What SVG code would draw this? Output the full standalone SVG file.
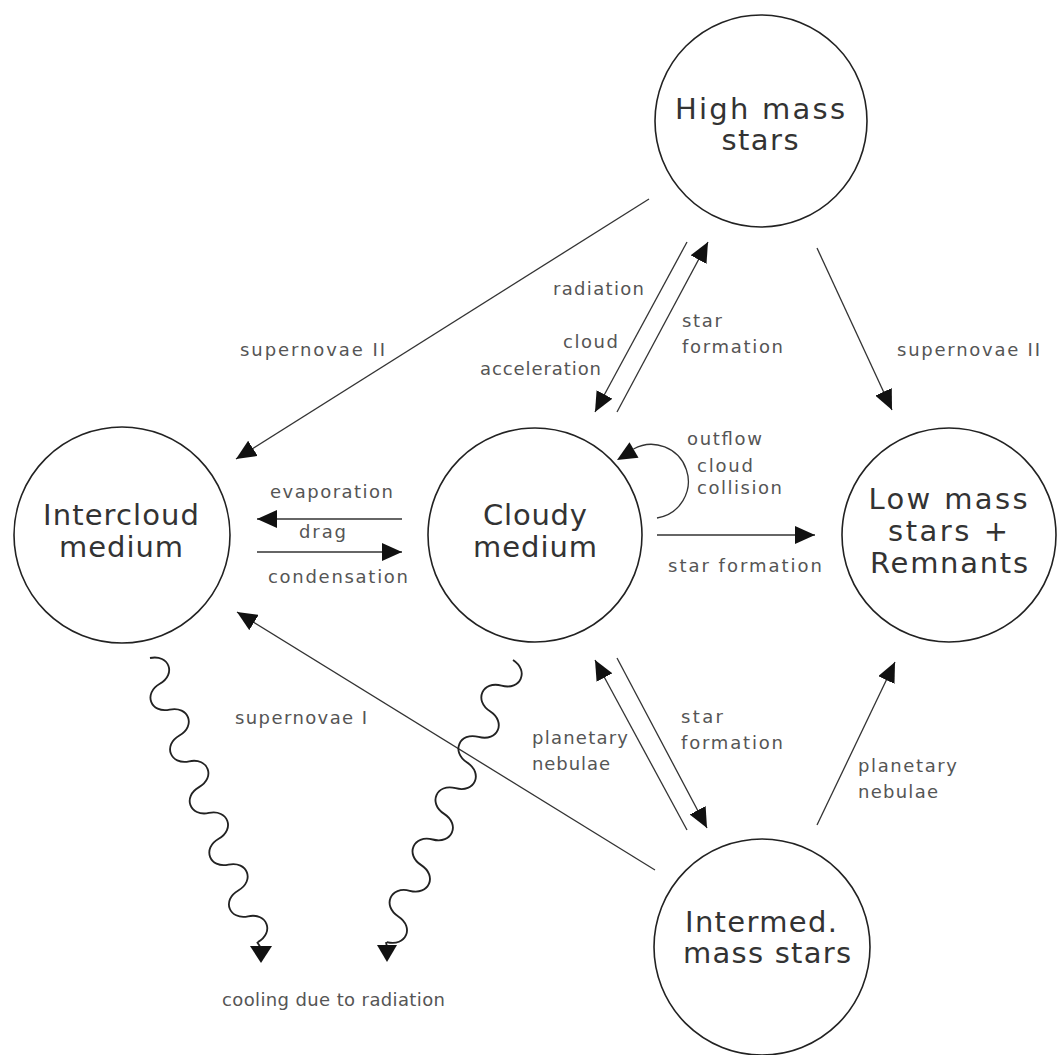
<svg xmlns="http://www.w3.org/2000/svg" width="1058" height="1055" viewBox="0 0 1058 1055">
<defs>
<style>
.node circle{fill:#fff;stroke:#222;stroke-width:1.6}
.nl{font-family:"DejaVu Sans","Liberation Sans",sans-serif;font-size:29px;fill:#333;text-anchor:middle}
.lb{font-family:"DejaVu Sans","Liberation Sans",sans-serif;font-size:18px;fill:#555}
.cn{fill:none;stroke:#333;stroke-width:1.3}
.wv{fill:none;stroke:#222;stroke-width:1.8}
.ah{fill:#111}
</style>
<marker id="arr" viewBox="0 0 20 18" refX="20" refY="9" markerWidth="20" markerHeight="18" markerUnits="userSpaceOnUse" orient="auto"><path d="M0,0 L20,9 L0,18 z" fill="#111"/></marker>
<path id="wave" d="M0,0 C3,-19 24.27,-19 27.27,0 S51.55,19 54.55,0 S78.82,-19 81.82,0 S106.09,19 109.09,0 S133.36,-19 136.36,0 S160.64,19 163.64,0 S187.91,-19 190.91,0 S215.18,19 218.18,0 S242.45,-19 245.45,0 S269.73,19 272.73,0 S297,-19 300,0"/>
</defs>
<rect width="1058" height="1055" fill="#fff"/>

<g id="n-high" class="node"><circle cx="761" cy="121" r="106"/><text class="nl" x="760" y="119" textLength="170">High mass</text><text class="nl" x="760" y="150" textLength="77">stars</text></g>
<g id="n-intercloud" class="node"><circle cx="122" cy="535" r="108"/><text class="nl" x="121" y="525" textLength="156">Intercloud</text><text class="nl" x="121" y="557" textLength="124">medium</text></g>
<g id="n-cloudy" class="node"><circle cx="535" cy="535" r="107"/><text class="nl" x="535" y="525" textLength="104">Cloudy</text><text class="nl" x="535" y="557" textLength="124">medium</text></g>
<g id="n-low" class="node"><circle cx="949" cy="535" r="107"/><text class="nl" x="948" y="509" textLength="159">Low mass</text><text class="nl" x="948" y="541" textLength="120">stars +</text><text class="nl" x="949" y="573" textLength="158">Remnants</text></g>
<g id="n-intermed" class="node"><circle cx="762" cy="947" r="108"/><text class="nl" x="761" y="932" textLength="152">Intermed.</text><text class="nl" x="767" y="963" textLength="168">mass stars</text></g>

<g id="connectors">
<path class="cn" d="M649,199 L236,459" marker-end="url(#arr)"/>
<path class="cn" d="M687,242 L595,412" marker-end="url(#arr)"/>
<path class="cn" d="M617,412 L708,242" marker-end="url(#arr)"/>
<path class="cn" d="M817,248 L892,410" marker-end="url(#arr)"/>
<path class="cn" d="M657,535 L815,535" marker-end="url(#arr)"/>
<path class="cn" d="M402,519 L257,519" marker-end="url(#arr)"/>
<path class="cn" d="M257,552 L402,552" marker-end="url(#arr)"/>
<path class="cn" d="M655,870 L237,612" marker-end="url(#arr)"/>
<path class="cn" d="M617,658 L707,828" marker-end="url(#arr)"/>
<path class="cn" d="M687,830 L595,660" marker-end="url(#arr)"/>
<path class="cn" d="M817,825 L895,662" marker-end="url(#arr)"/>
<path class="cn" stroke-width="1.5" d="M657,518 A37,37 0 1 0 633.5,449"/>
<polygon class="ah" points="617,460 638.5,457.8 629.5,442.2"/>
<use href="#wave" class="wv" transform="translate(150,658) rotate(69.2) scale(1.013)"/>
<path class="wv" d="M257,942 L261,948"/>
<polygon class="ah" points="250,946 272,946 261,963"/>
<use href="#wave" class="wv" transform="translate(513,660) rotate(114.1) scale(1.03)"/>
<path class="wv" d="M386,942 L387,947"/>
<polygon class="ah" points="377,945 397,945 387,962"/>
</g>

<g id="labels">
<text class="lb" x="553" y="295" textLength="91">radiation</text>
<text class="lb" x="563" y="348" textLength="55">cloud</text>
<text class="lb" x="480" y="375" textLength="121">acceleration</text>
<text class="lb" x="682" y="327" textLength="40">star</text>
<text class="lb" x="682" y="353" textLength="101">formation</text>
<text class="lb" x="240" y="356" textLength="145">supernovae II</text>
<text class="lb" x="897" y="356" textLength="143">supernovae II</text>
<text class="lb" x="687" y="445" textLength="75">outflow</text>
<text class="lb" x="697" y="472" textLength="56">cloud</text>
<text class="lb" x="697" y="494" textLength="85">collision</text>
<text class="lb" x="270" y="498" textLength="123">evaporation</text>
<text class="lb" x="299" y="538" textLength="47">drag</text>
<text class="lb" x="268" y="583" textLength="140">condensation</text>
<text class="lb" x="668" y="572" textLength="154">star formation</text>
<text class="lb" x="235" y="724" textLength="132">supernovae I</text>
<text class="lb" x="681" y="723" textLength="42">star</text>
<text class="lb" x="681" y="749" textLength="102">formation</text>
<text class="lb" x="532" y="744" textLength="96">planetary</text>
<text class="lb" x="532" y="770" textLength="78">nebulae</text>
<text class="lb" x="858" y="772" textLength="99">planetary</text>
<text class="lb" x="858" y="798" textLength="80">nebulae</text>
<text class="lb" x="222" y="1006" textLength="223">cooling due to radiation</text>
</g>
</svg>
